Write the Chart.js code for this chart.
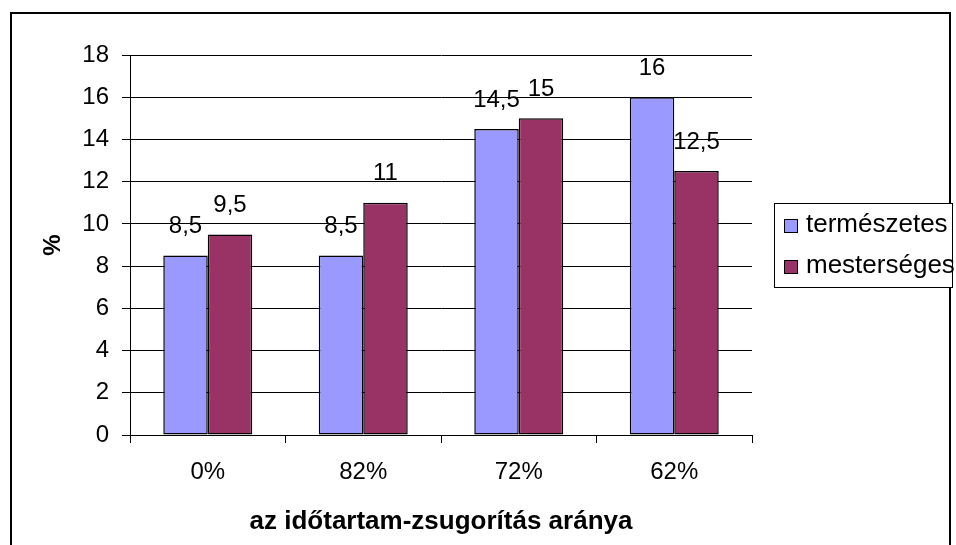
<!DOCTYPE html>
<html>
<head>
<meta charset="utf-8">
<script src="https://cdn.jsdelivr.net/npm/chart.js@4/dist/chart.umd.min.js"></script>
<style>
  html, body { margin: 0; padding: 0; background: #fff; }
  #wrap { width: 956px; height: 545px; }
</style>
</head>
<body>
<div id="wrap"><canvas id="bars" width="956" height="545"></canvas></div>
<script>
const categories = ["0%", "82%", "72%", "62%"];
const termeszetes = [8.5, 8.5, 14.5, 16];
const mesterseges = [9.5, 11, 15, 12.5];
const seriesNames = ["természetes", "mesterséges"];
const seriesColors = ["#9999FF", "#993366"];
const yMin = 0;
const yMax = 18;
const yStep = 2;

const FONT = "'Liberation Sans', Arial, sans-serif";
Chart.defaults.font.family = FONT;
Chart.defaults.color = "#000";

function formatValue(v) {
  return String(v).replace(".", ",");
}

// white background plus the outer frame
const framePlugin = {
  id: "frame",
  beforeDraw(chart) {
    const ctx = chart.ctx;
    ctx.save();
    ctx.fillStyle = "#fff";
    ctx.fillRect(0, 0, chart.width, chart.height);
    ctx.restore();
  },
  afterDraw(chart) {
    const ctx = chart.ctx;
    ctx.save();
    ctx.strokeStyle = "#000";
    ctx.lineWidth = 2;
    ctx.beginPath();
    ctx.moveTo(11, chart.height + 5);
    ctx.lineTo(11, 13);
    ctx.lineTo(950, 13);
    ctx.lineTo(950, chart.height + 5);
    ctx.stroke();
    ctx.restore();
  }
};

// value labels above each bar
const valueLabels = {
  id: "valueLabels",
  afterDatasetsDraw(chart) {
    const ctx = chart.ctx;
    ctx.save();
    ctx.font = "24px " + FONT;
    ctx.fillStyle = "#000";
    ctx.textAlign = "center";
    ctx.textBaseline = "middle";
    chart.data.datasets.forEach((ds, i) => {
      const meta = chart.getDatasetMeta(i);
      meta.data.forEach((bar, j) => {
        ctx.fillText(formatValue(ds.data[j]), bar.x, bar.y - 29);
      });
    });
    ctx.restore();
  }
};

// boxed legend on the right
const sideLegend = {
  id: "sideLegend",
  afterDraw(chart) {
    const ctx = chart.ctx;
    const left = 774.5, top = 203.5, w = 178, h = 84;
    ctx.save();
    ctx.fillStyle = "#fff";
    ctx.fillRect(left, top, w, h);
    ctx.strokeStyle = "#000";
    ctx.lineWidth = 1;
    ctx.strokeRect(left, top, w, h);
    ctx.font = "26px " + FONT;
    ctx.textAlign = "left";
    ctx.textBaseline = "middle";
    chart.data.datasets.forEach((ds, i) => {
      const cy = 225 + i * 41;
      ctx.fillStyle = ds.backgroundColor;
      ctx.fillRect(784.5, cy - 5.5, 13, 13);
      ctx.strokeRect(784.5, cy - 5.5, 13, 13);
      ctx.fillStyle = "#000";
      ctx.fillText(ds.label, 806, cy);
    });
    ctx.restore();
  }
};

const barStyle = {
  borderColor: "#000",
  borderWidth: 1.5,
  borderSkipped: false,
  categoryPercentage: 0.572,
  barPercentage: 1
};

new Chart(document.getElementById("bars"), {
  type: "bar",
  data: {
    labels: categories,
    datasets: [
      Object.assign({ label: seriesNames[0], data: termeszetes, backgroundColor: seriesColors[0] }, barStyle),
      Object.assign({ label: seriesNames[1], data: mesterseges, backgroundColor: seriesColors[1] }, barStyle)
    ]
  },
  options: {
    responsive: false,
    animation: false,
    layout: { padding: { left: 0, right: 204, top: 55, bottom: 0 } },
    plugins: {
      legend: { display: false },
      tooltip: { enabled: false }
    },
    scales: {
      x: {
        grid: { drawOnChartArea: false, color: "#000", tickLength: 8, offset: true },
        border: { color: "#000" },
        ticks: { color: "#000", font: { size: 24 }, padding: 15 },
        title: {
          display: true,
          text: "az időtartam-zsugorítás aránya",
          color: "#000",
          font: { size: 26, weight: "bold" },
          padding: { top: 0, bottom: 8 }
        },
        afterFit: (scale) => { scale.height = 110; }
      },
      y: {
        min: yMin,
        max: yMax,
        ticks: { stepSize: yStep, color: "#000", font: { size: 24 }, padding: 13 },
        grid: { color: "#000", tickLength: 8 },
        border: { color: "#000" },
        title: {
          display: true,
          text: "%",
          color: "#000",
          font: { size: 24, weight: "bold" },
          padding: { top: 38.6, bottom: 0 }
        },
        afterFit: (scale) => { scale.width = 130; }
      }
    }
  },
  plugins: [framePlugin, valueLabels, sideLegend]
});
</script>
</body>
</html>
